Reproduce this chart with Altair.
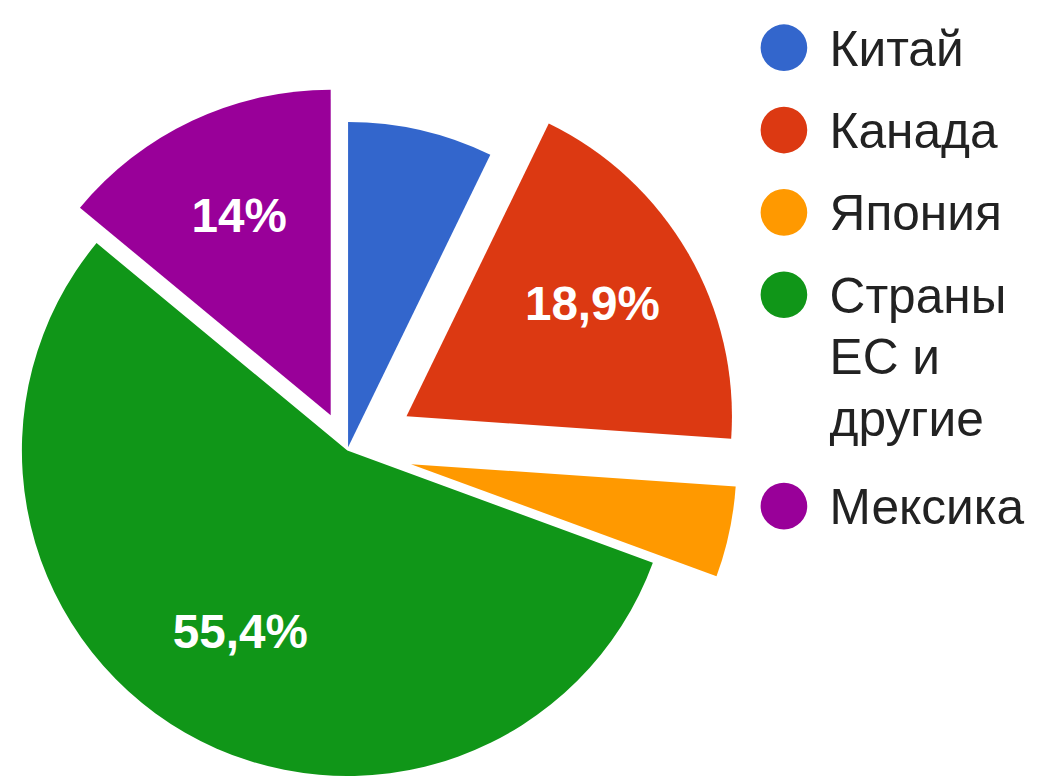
import altair as alt
import pandas as pd

# ---- data ----
categories = ["Китай", "Канада", "Япония", "Страны ЕС и другие", "Мексика"]
shares = [7.2, 18.9, 4.5, 55.4, 14.0]
slice_labels = ["", "18,9%", "", "55,4%", "14%"]
legend_labels = ["Китай", "Канада", "Япония", "Страны\nЕС и\nдругие", "Мексика"]

# ---- style ----
colors = ["#3366cc", "#dc3912", "#ff9900", "#109618", "#990099"]
explode = [0.01, 0.21, 0.20, 0.0, 0.12]  # slice offset, fraction of radius

W, H = 1030, 768
CX, CY, R = 342, 443, 328
FONT = "Liberation Sans"

df = pd.DataFrame({
    "category": categories,
    "share": shares,
    "label": slice_labels,
    "legend": legend_labels,
    "extra": [s.count("\n") for s in legend_labels],
    "order": list(range(len(categories))),
    "explode": explode,
})

base = (
    alt.Chart(df)
    .transform_joinaggregate(total="sum(share)")
    .transform_window(cum="sum(share)", sort=[alt.SortField("order")], frame=[None, 0])
    .transform_calculate(
        mid="2*PI*(datum.cum - datum.share/2)/datum.total",
    )
    .transform_calculate(
        cx=f"{CX} + {R}*datum.explode*sin(datum.mid)",
        cy=f"{CY} - {R}*datum.explode*cos(datum.mid)",
    )
    .transform_calculate(
        lx=f"datum.cx + {0.66 * R}*sin(datum.mid)",
        ly=f"datum.cy - {0.66 * R}*cos(datum.mid) - 3",
    )
)

color_scale = alt.Scale(domain=categories, range=colors)

arcs = base.mark_arc(radius=R).encode(
    theta=alt.Theta("share:Q", stack=True),
    order=alt.Order("order:Q"),
    x=alt.X("cx:Q", scale=None),
    y=alt.Y("cy:Q", scale=None),
    color=alt.Color("category:N", scale=color_scale, legend=None),
)

labels = base.mark_text(
    font=FONT, fontSize=48, fontWeight="bold", color="white",
    align="center", baseline="middle",
).encode(
    x=alt.X("lx:Q", scale=None),
    y=alt.Y("ly:Q", scale=None),
    text="label:N",
)

leg_base = (
    alt.Chart(df)
    .transform_window(cumextra="sum(extra)", sort=[alt.SortField("order")], frame=[None, 0])
    .transform_calculate(
        gy="37 + 83*datum.order + 65*(datum.cumextra - datum.extra)",
    )
    .transform_calculate(ty="datum.gy + 18")
)

leg_dots = leg_base.mark_circle(size=2209, opacity=1).encode(
    x=alt.value(782),
    y=alt.Y("gy:Q", scale=None),
    color=alt.Color("category:N", scale=color_scale, legend=None),
)

leg_text = leg_base.mark_text(
    font=FONT, fontSize=50, color="#222222", align="left", baseline="alphabetic",
    lineBreak="\n", lineHeight=62,
).encode(
    x=alt.value(828),
    y=alt.Y("ty:Q", scale=None),
    text="legend:N",
)

chart = (
    alt.layer(arcs, labels, leg_dots, leg_text)
    .properties(width=W, height=H, padding=0, autosize="none")
    .configure_view(stroke=None)
)

chart.save("out.html", embed_options={"renderer": "svg", "actions": False})
